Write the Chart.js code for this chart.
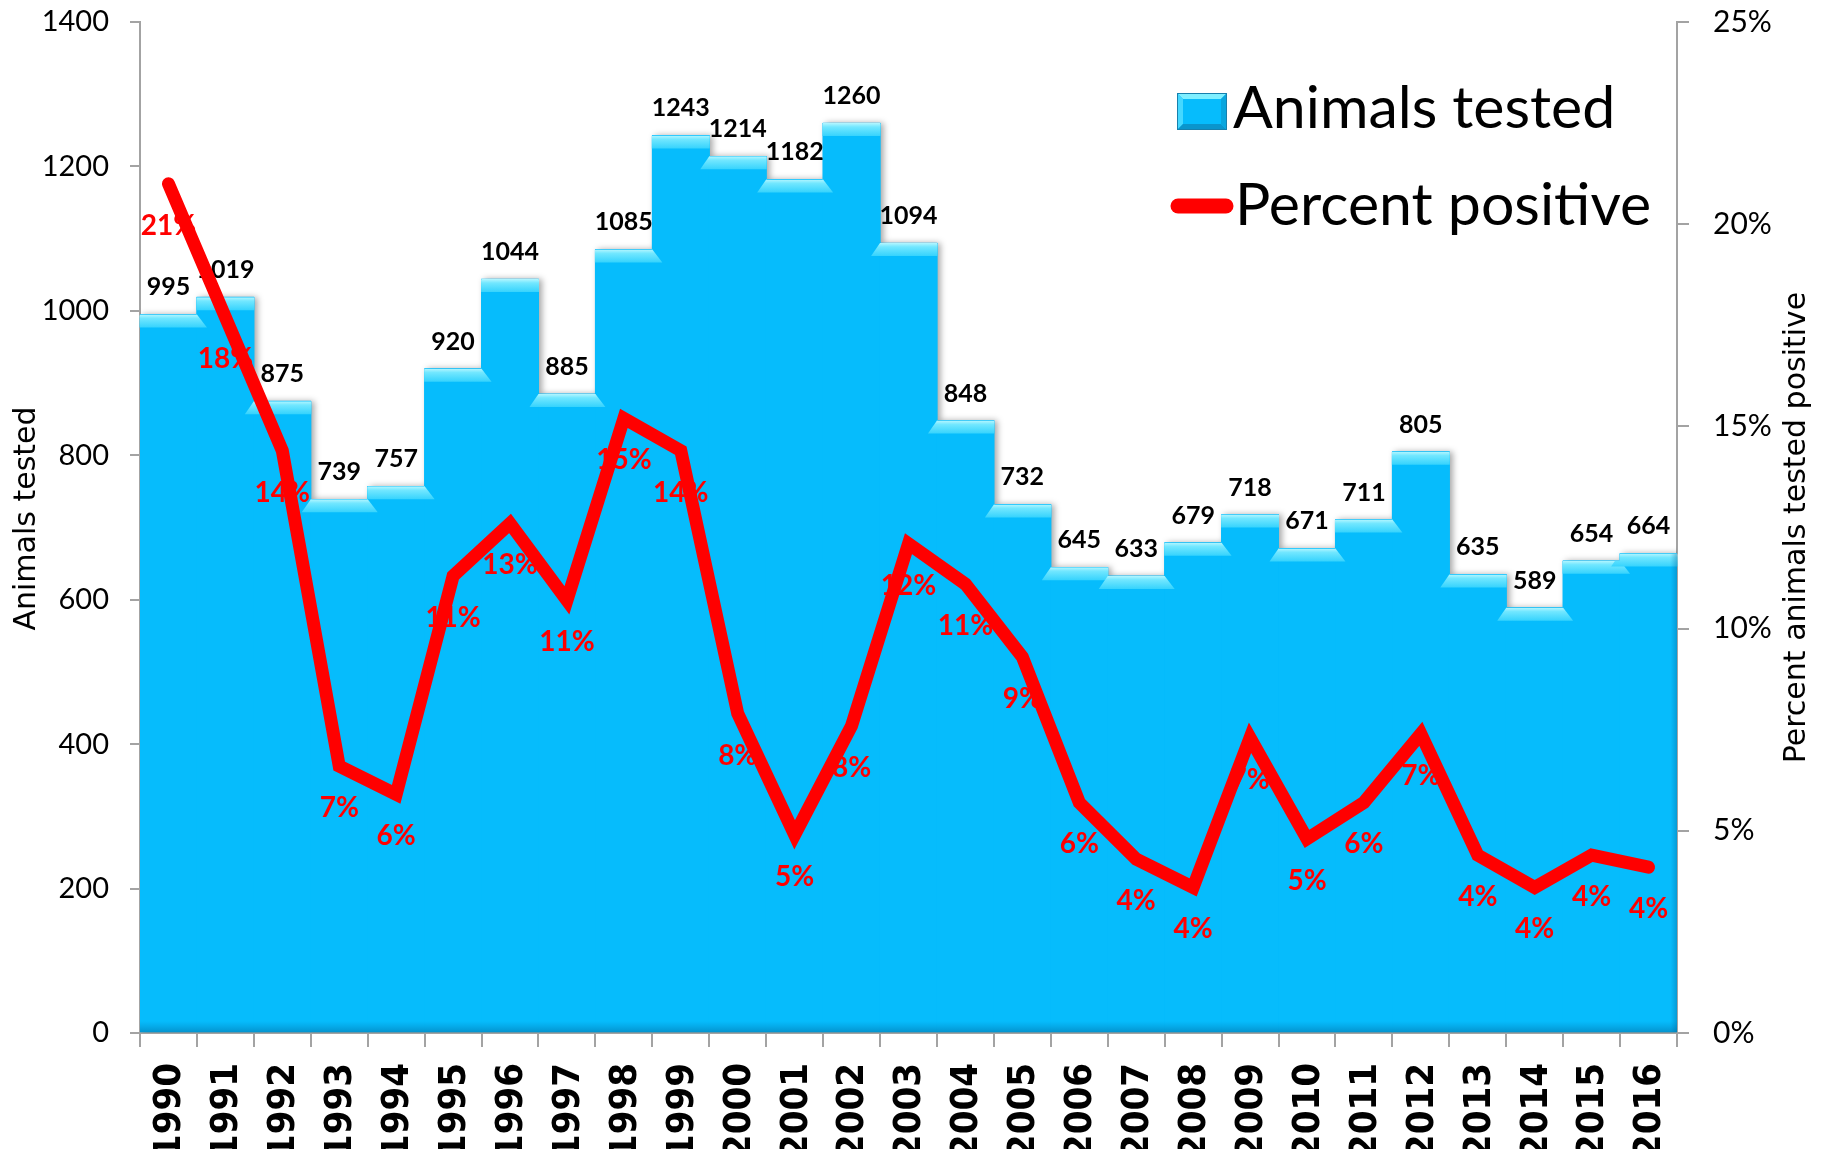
<!DOCTYPE html>
<html>
<head>
<meta charset="utf-8">
<title>Animals tested and percent positive, 1990–2016</title>
<script src="https://cdn.jsdelivr.net/npm/chart.js@4.4.1/dist/chart.umd.min.js"></script>
<style>
  html, body { margin: 0; padding: 0; background: #ffffff; overflow: hidden; }
  #wrap { width: 1825px; height: 1149px; position: relative; }
</style>
</head>
<body>
<div id="wrap"><canvas id="chart" width="1825" height="1149"></canvas></div>
<script>
// ---- data ----
const years = ['1990','1991','1992','1993','1994','1995','1996','1997','1998','1999',
               '2000','2001','2002','2003','2004','2005','2006','2007','2008','2009',
               '2010','2011','2012','2013','2014','2015','2016'];

const animalsTested = [995, 1019, 875, 739, 757, 920, 1044, 885, 1085, 1243,
                       1214, 1182, 1260, 1094, 848, 732, 645, 633, 679, 718,
                       671, 711, 805, 635, 589, 654, 664];

const percentPositive = [21.0, 17.7, 14.4, 6.6, 5.9, 11.3, 12.6, 10.7, 15.2, 14.4,
                         7.9, 4.9, 7.6, 12.1, 11.1, 9.3, 5.7, 4.3, 3.6, 7.3,
                         4.8, 5.7, 7.4, 4.4, 3.6, 4.4, 4.1];

const countTicks = [0, 200, 400, 600, 800, 1000, 1200, 1400];
const percentTicks = [0, 5, 10, 15, 20, 25];

// ---- styling ----
const BAR_FILL = '#06BCFC';
const LINE_RED = '#FF0000';
const AXIS_GREY = '#a3a3a3';
const CALIBRI_LIKE = 'Lato, "Liberation Sans", sans-serif';
const VERDANA_LIKE = '"DejaVu Sans", Verdana, sans-serif';
const YEAR_FONT = '"DejaVu Sans Condensed", "DejaVu Sans", sans-serif';

function barPath(c, meta) {
  c.beginPath();
  meta.data.forEach(b => {
    c.rect(b.x - b.width / 2 - 0.5, b.y, b.width + 1, b.base - b.y);
  });
}

// Bars: soft drop shadow, bevelled top faces, base shading and value labels
const barDecor = {
  id: 'barDecor',
  beforeDatasetDraw(chart, args) {
    if (args.index !== 0) return;
    const c = chart.ctx;
    const meta = chart.getDatasetMeta(0);
    const area = chart.chartArea;
    // one silhouette fill carries the shadow, so no seams appear between bars
    c.save();
    c.beginPath();
    c.rect(area.left, area.top - 40, area.right - area.left, area.bottom - area.top + 40);
    c.clip();
    c.shadowColor = 'rgba(0,0,0,0.35)';
    c.shadowBlur = 6;
    c.shadowOffsetX = 3;
    c.shadowOffsetY = 0;
    c.fillStyle = BAR_FILL;
    barPath(c, meta);
    c.fill();
    c.restore();
  },
  afterDatasetDraw(chart, args) {
    if (args.index !== 0) return;
    const c = chart.ctx;
    const meta = chart.getDatasetMeta(0);
    const area = chart.chartArea;

    c.save();
    barPath(c, meta);
    c.clip();

    const bevel = 13;
    meta.data.forEach(b => {
      const L = b.x - b.width / 2, R = b.x + b.width / 2, T = b.y;
      const g = c.createLinearGradient(0, T, 0, T + bevel);
      g.addColorStop(0, '#b4f6ff');
      g.addColorStop(0.3, '#72e7ff');
      g.addColorStop(1, '#36d3fd');
      c.fillStyle = g;
      c.beginPath();
      c.moveTo(L, T);
      c.lineTo(R, T);
      c.lineTo(R + 10, T + bevel);
      c.lineTo(L - 9, T + bevel);
      c.closePath();
      c.fill();
    });

    // darker rim along the base of the bars
    const gb = c.createLinearGradient(0, area.bottom - 12, 0, area.bottom);
    gb.addColorStop(0, 'rgba(0,110,170,0)');
    gb.addColorStop(1, 'rgba(0,90,140,0.45)');
    c.fillStyle = gb;
    c.fillRect(area.left, area.bottom - 12, area.right - area.left, 12);

    // darker rim on the right edge of the last bar
    const last = meta.data[meta.data.length - 1];
    const rx = last.x + last.width / 2;
    const gr = c.createLinearGradient(rx - 7, 0, rx, 0);
    gr.addColorStop(0, 'rgba(0,110,170,0)');
    gr.addColorStop(1, 'rgba(0,90,140,0.35)');
    c.fillStyle = gr;
    c.fillRect(rx - 7, last.y, 7, last.base - last.y);
    c.restore();

    // value labels above the bars
    c.save();
    c.font = 'bold 25px ' + CALIBRI_LIKE;
    c.fillStyle = '#000000';
    c.textAlign = 'center';
    c.textBaseline = 'alphabetic';
    meta.data.forEach((b, i) => {
      c.fillText(String(animalsTested[i]), b.x, b.y - 19);
    });
    c.restore();
  }
};

// Percent labels under the line points, axis titles and legend
const overlay = {
  id: 'overlay',
  afterDatasetsDraw(chart) {
    const c = chart.ctx;
    const meta = chart.getDatasetMeta(1);
    c.save();
    c.font = 'bold 28px ' + CALIBRI_LIKE;
    c.fillStyle = LINE_RED;
    c.textAlign = 'center';
    c.textBaseline = 'alphabetic';
    meta.data.forEach((p, i) => {
      c.fillText(Math.round(percentPositive[i]) + '%', p.x, p.y + 51);
    });
    c.restore();
  },
  afterDraw(chart) {
    const c = chart.ctx;
    const area = chart.chartArea;
    const yl = chart.scales.yCount;
    const yr = chart.scales.yPct;
    const midY = (area.top + area.bottom) / 2;

    // axis titles, both reading bottom to top
    c.save();
    c.font = '30px ' + VERDANA_LIKE;
    c.fillStyle = '#000000';
    c.textAlign = 'center';
    c.textBaseline = 'middle';
    c.translate(yl.left + 27, midY - 9);
    c.rotate(-Math.PI / 2);
    c.fillText('Animals tested', 0, 0);
    c.restore();

    c.save();
    c.font = '30px ' + VERDANA_LIKE;
    c.fillStyle = '#000000';
    c.textAlign = 'center';
    c.textBaseline = 'middle';
    c.translate(yr.right - 28, midY);
    c.rotate(-Math.PI / 2);
    c.fillText('Percent animals tested positive', 0, 0);
    c.restore();

    // legend in the upper right of the plot
    const lx = area.right - 500;
    const row1 = area.top + 106;
    const row2 = area.top + 203;
    c.save();
    // bevelled square swatch
    const sx = lx, sy = row1 - 35, sw = 50, sh = 37, e = 6;
    c.fillStyle = BAR_FILL;
    c.fillRect(sx, sy, sw, sh);
    c.fillStyle = '#7fefff';
    c.beginPath(); c.moveTo(sx, sy); c.lineTo(sx + sw, sy); c.lineTo(sx + sw - e, sy + e); c.lineTo(sx + e, sy + e); c.closePath(); c.fill();
    c.fillStyle = '#45d8ff';
    c.beginPath(); c.moveTo(sx, sy); c.lineTo(sx + e, sy + e); c.lineTo(sx + e, sy + sh - e); c.lineTo(sx, sy + sh); c.closePath(); c.fill();
    c.fillStyle = '#0a95cc';
    c.beginPath(); c.moveTo(sx, sy + sh); c.lineTo(sx + e, sy + sh - e); c.lineTo(sx + sw - e, sy + sh - e); c.lineTo(sx + sw, sy + sh); c.closePath(); c.fill();
    c.fillStyle = '#0aa6de';
    c.beginPath(); c.moveTo(sx + sw, sy); c.lineTo(sx + sw, sy + sh); c.lineTo(sx + sw - e, sy + sh - e); c.lineTo(sx + sw - e, sy + e); c.closePath(); c.fill();
    c.strokeStyle = '#1780ad';
    c.lineWidth = 1;
    c.strokeRect(sx + 0.5, sy + 0.5, sw - 1, sh - 1);

    // red line swatch
    c.strokeStyle = LINE_RED;
    c.lineWidth = 15;
    c.lineCap = 'round';
    c.beginPath(); c.moveTo(lx + 1, row2 - 19); c.lineTo(lx + 49, row2 - 19); c.stroke();

    c.font = '59px ' + CALIBRI_LIKE;
    c.fillStyle = '#000000';
    c.textAlign = 'left';
    c.textBaseline = 'alphabetic';
    c.fillText('Animals tested', lx + 56, row1);
    c.fillText('Percent positive', lx + 58, row2);
    c.restore();
  }
};

Chart.defaults.font.family = CALIBRI_LIKE;
Chart.defaults.color = '#000000';

// value axes keep their full box but do not push the plot area inward
function fixVerticalAxis(width) {
  return scale => {
    scale.width = width;
    scale.paddingTop = 0;
    scale.paddingBottom = 0;
  };
}

new Chart(document.getElementById('chart'), {
  data: {
    labels: years,
    datasets: [
      {
        type: 'bar',
        label: 'Animals tested',
        data: animalsTested,
        yAxisID: 'yCount',
        backgroundColor: BAR_FILL,
        borderWidth: 0,
        barPercentage: 1,
        categoryPercentage: 1,
        order: 2
      },
      {
        type: 'line',
        label: 'Percent positive',
        data: percentPositive,
        yAxisID: 'yPct',
        borderColor: LINE_RED,
        borderWidth: 13,
        borderJoinStyle: 'miter',
        borderCapStyle: 'round',
        pointRadius: 0,
        tension: 0,
        fill: false,
        order: 1
      }
    ]
  },
  options: {
    responsive: false,
    animation: false,
    events: [],
    layout: { padding: { top: 22, left: 0, right: 0, bottom: 0 } },
    plugins: {
      legend: { display: false },
      tooltip: { enabled: false },
      title: { display: false }
    },
    scales: {
      x: {
        position: 'bottom',
        offset: true,
        grid: { offset: true, drawOnChartArea: false, drawTicks: true, tickLength: 14, color: AXIS_GREY, lineWidth: 2 },
        border: { color: AXIS_GREY, width: 2 },
        ticks: {
          autoSkip: false, minRotation: 90, maxRotation: 90, padding: 16, labelOffset: 2,
          color: '#000000',
          font: { family: YEAR_FONT, weight: 'bold', size: 38 }
        },
        afterFit(scale) {
          scale.height = 116;
          scale.paddingLeft = 0;
          scale.paddingRight = 0;
        }
      },
      yCount: {
        position: 'left',
        min: 0,
        max: 1400,
        afterBuildTicks(scale) { scale.ticks = countTicks.map(v => ({ value: v })); },
        grid: { drawOnChartArea: false, drawTicks: true, tickLength: 10, color: AXIS_GREY, lineWidth: 2 },
        border: { color: AXIS_GREY, width: 2 },
        ticks: {
          padding: 21, color: '#000000',
          font: { family: CALIBRI_LIKE, size: 29 },
          callback: v => String(v)
        },
        afterFit: fixVerticalAxis(140)
      },
      yPct: {
        position: 'right',
        min: 0,
        max: 25,
        afterBuildTicks(scale) { scale.ticks = percentTicks.map(v => ({ value: v })); },
        grid: { drawOnChartArea: false, drawTicks: true, tickLength: 12, color: AXIS_GREY, lineWidth: 2 },
        border: { color: AXIS_GREY, width: 2 },
        ticks: {
          padding: 24, color: '#000000',
          font: { family: CALIBRI_LIKE, size: 30 },
          callback: v => v + '%'
        },
        afterFit: fixVerticalAxis(148)
      }
    }
  },
  plugins: [barDecor, overlay]
});
</script>
</body>
</html>
